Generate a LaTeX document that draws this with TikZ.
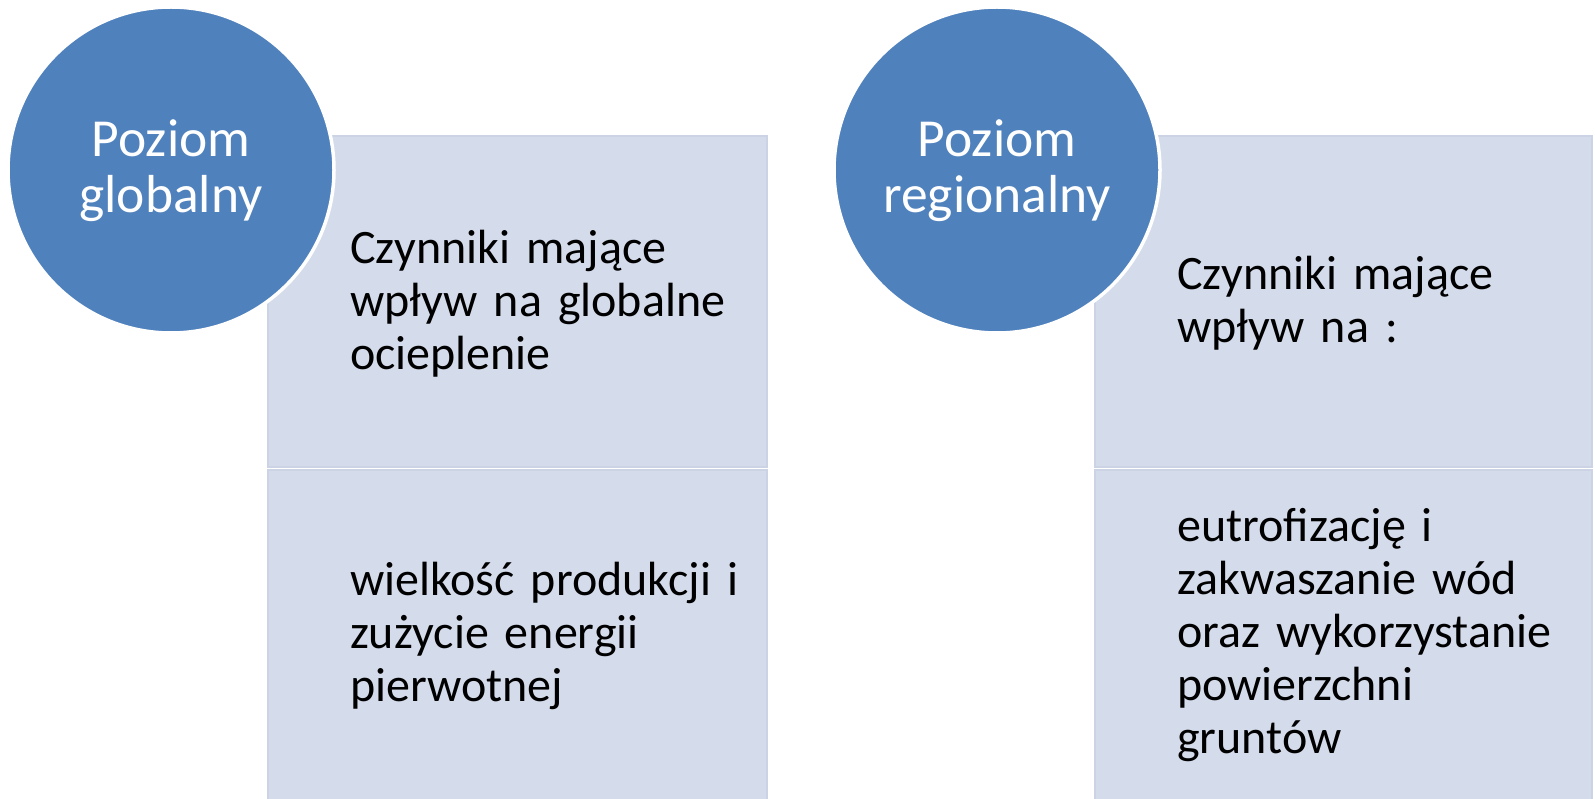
\documentclass[tikz,border=0pt]{standalone}
\usepackage{fontspec}
\setmainfont{Carlito}
\definecolor{circblue}{RGB}{79,129,189}
\definecolor{cellfill}{RGB}{212,219,234}
\definecolor{celledge}{RGB}{203,211,228}
\begin{document}
\begin{tikzpicture}[x=1pt,y=-1pt,
  cellbox/.style={fill=cellfill,draw=celledge,line width=2pt},
  circ/.style={circle,fill=circblue,draw=white,line width=3.5pt,minimum size=326pt,inner sep=0pt},
  circtext/.style={text=white,font=\fontsize{53.5}{56}\selectfont,text width=320pt,align=center,anchor=base,inner sep=0pt},
  celltext/.style={text=black,font=\fontsize{48}{53}\selectfont,text width=420pt,align=left,anchor=base west,inner sep=0pt}]
\useasboundingbox (0,0) rectangle (1595,799);
% left group
\path[cellbox] (268,136) rectangle (767,467);
\path[cellbox] (268,470) rectangle (767,802);
\node[circ] (c1) at (171,170) {};
\node[circtext] (t1) at (171,157) {Poziom\\globalny};
\node[celltext] (a1) at (350,264) {Czynniki mające\\wpływ na globalne\\ocieplenie};
\node[celltext] (b1) at (350,595) {wielkość produkcji i\\zużycie energii\\pierwotnej};
% right group
\path[cellbox] (1095,136) rectangle (1592,467);
\path[cellbox] (1095,470) rectangle (1592,802);
\node[circ] (c2) at (997,170) {};
\node[circtext] (t2) at (997,157) {Poziom\\regionalny};
\node[celltext] (a2) at (1177,290) {Czynniki mające\\wpływ na :};
\node[celltext] (b2) at (1177,541) {eutrofizację i\\zakwaszanie wód\\oraz wykorzystanie\\powierzchni\\gruntów};
\end{tikzpicture}
\end{document}
